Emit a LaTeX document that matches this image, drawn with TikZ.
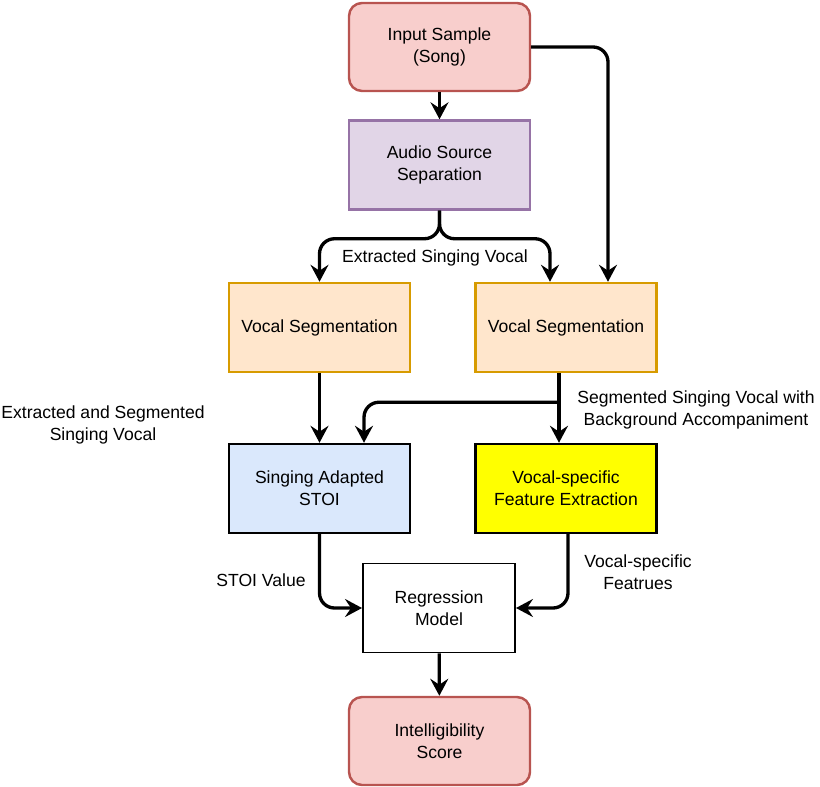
\documentclass[tikz,border=0pt]{standalone}
\usepackage{fontspec}
\setmainfont{Liberation Sans}
\usepackage{tikz}
\usetikzlibrary{arrows.meta, positioning, calc}
\definecolor{termfill}{HTML}{F8CECC}
\definecolor{termdraw}{HTML}{B85450}
\definecolor{sepfill}{HTML}{E1D5E7}
\definecolor{sepdraw}{HTML}{9673A6}
\definecolor{segfill}{HTML}{FFE6CC}
\definecolor{segdraw}{HTML}{D79B00}
\definecolor{stoifill}{HTML}{DAE8FC}
\definecolor{featfill}{HTML}{FFFF00}
\tikzstyle{terminal} = [rectangle, rounded corners=0.26cm, minimum width=3.62cm, minimum height=1.76cm, align=center, draw=termdraw, fill=termfill, line width=1.4pt]
\tikzstyle{process} = [rectangle, minimum width=3.62cm, minimum height=1.78cm, align=center, draw=black, line width=1.4pt]
\tikzstyle{arrow} = [line width=1.9pt, -{Stealth[length=3.4mm, width=3.6mm, inset=1.2mm]}, rounded corners=0.3cm]
\tikzstyle{label} = [align=center, font=\fontsize{10}{12.5}\selectfont]

\begin{document}
\begin{tikzpicture}[font=\fontsize{10}{12.5}\selectfont]
    \useasboundingbox (0,0) rectangle (16.4,-15.74);

    % Top
    \node[terminal] (input) at (8.79, -0.94) {Input Sample\\(Song)};
    \node[process, draw=sepdraw, fill=sepfill] (audio) at (8.79, -3.3) {Audio Source\\Separation};

    % Segmentation
    \node[process, draw=segdraw, fill=segfill] (vsegL) at (6.39, -6.55) {Vocal Segmentation};
    \node[process, draw=segdraw, fill=segfill] (vsegR) at (11.32, -6.55) {Vocal Segmentation};

    % Scoring
    \node[process, fill=stoifill] (stoi) at (6.39, -9.77) {Singing Adapted\\STOI};
    \node[process, fill=featfill] (feat) at (11.32, -9.77) {Vocal-specific\\Feature Extraction};
    \node[process, fill=white, minimum width=3.04cm, line width=1.1pt] (regr) at (8.78, -12.16) {Regression\\Model};
    \node[terminal] (score) at (8.79, -14.82) {Intelligibility\\Score};

    % Labels
    \node[label] (lblext) at (8.7, -5.16) {Extracted Singing Vocal};
    \node[label] (lblseg) at (2.06, -8.5) {Extracted and Segmented\\Singing Vocal};
    \node[label] (lblbg) at (13.92, -8.2) {Segmented Singing Vocal with\\Background Accompaniment};
    \node[label] (lblstoi) at (5.22, -11.6) {STOI Value};
    \node[label] (lblfeat) at (12.76, -11.44) {Vocal-specific\\Featrues};

    % Arrows - top
    \draw[arrow] (input) -- (audio);
    \draw[arrow] (input.east) -| ([xshift=0.84cm]vsegR.north);
    \coordinate (split) at ($(audio.south)+(0,-0.56)$);
    \draw[arrow] (audio.south) -- (split) -| (vsegL.north);
    \draw[arrow] (audio.south) -- (split) -| ([xshift=-0.32cm]vsegR.north);

    % Arrows - middle
    \draw[arrow] (vsegL) -- (stoi);
    \draw[arrow] ([xshift=-0.14cm]vsegR.south) -- ([xshift=-0.14cm]feat.north);
    \coordinate (tap) at ($([xshift=-0.14cm]vsegR.south)+(0,-0.58)$);
    \draw[arrow] (tap) -| ([xshift=0.89cm]stoi.north);

    % Arrows - bottom
    \draw[arrow] (stoi.south) |- (regr.west);
    \draw[arrow] ([xshift=0.04cm]feat.south) |- (regr.east);
    \draw[arrow] (regr) -- (score);
\end{tikzpicture}
\end{document}
